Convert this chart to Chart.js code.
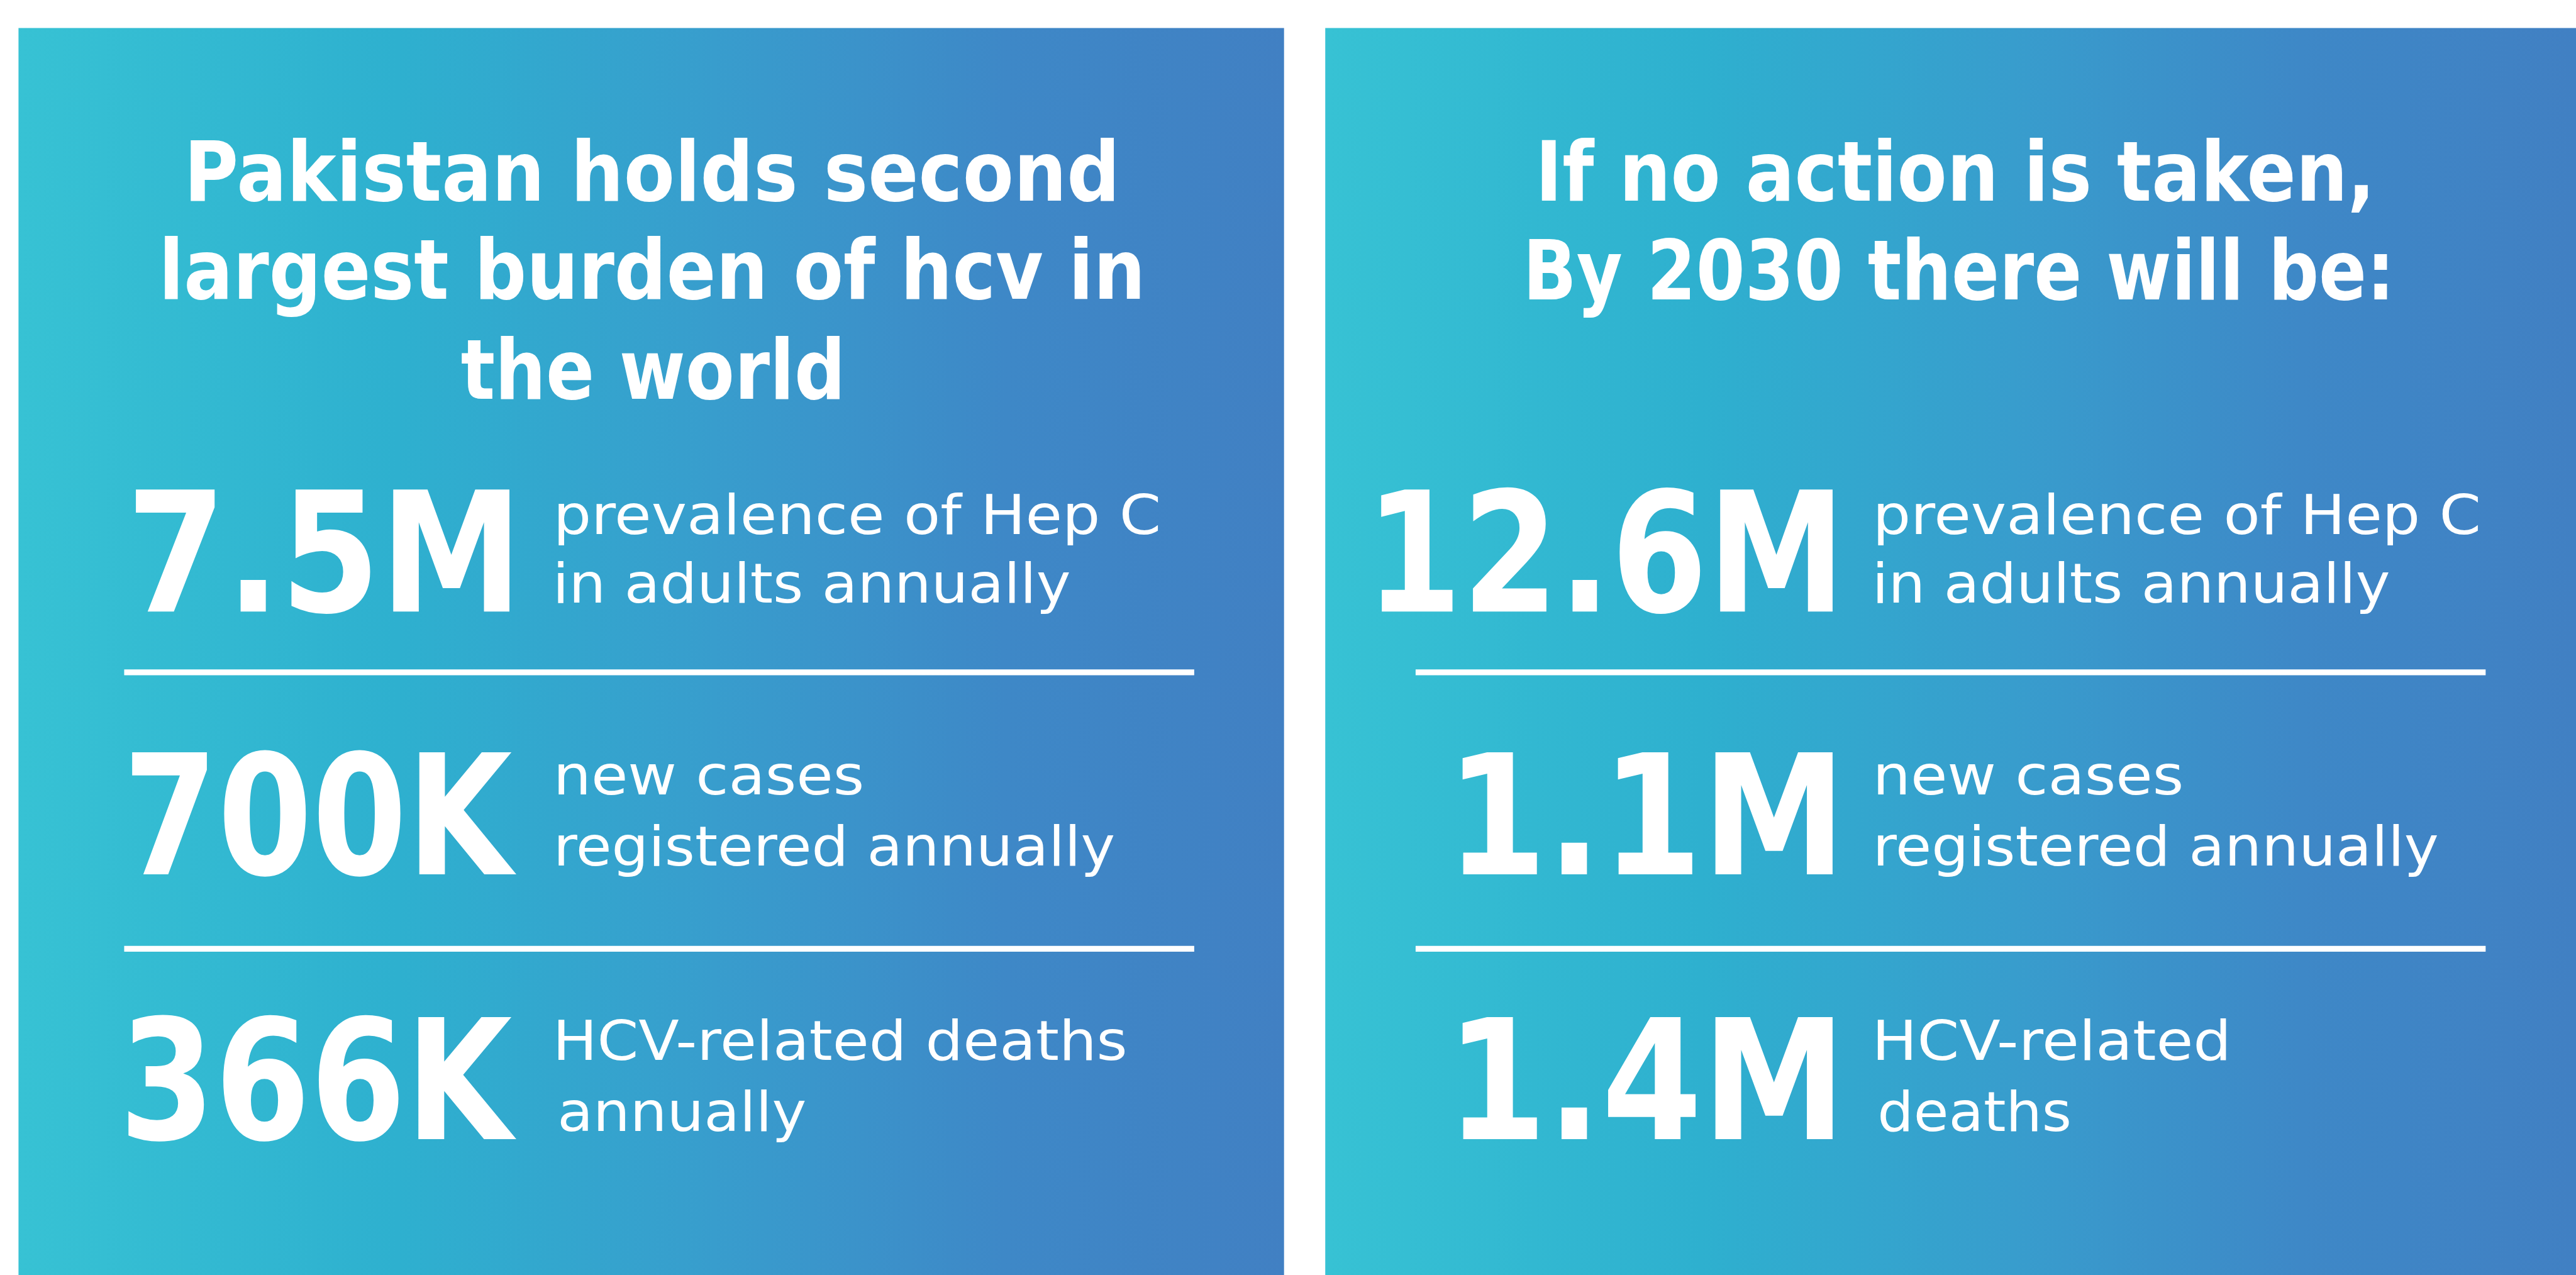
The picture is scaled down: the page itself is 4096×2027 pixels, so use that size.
<!DOCTYPE html>
<html lang="en">

<head>
    <meta charset="UTF-8">
    <title>Hepatitis C in Pakistan</title>
    <style>
        html, body {
            margin: 0;
            padding: 0;
            background: #fff;
        }

        .chart-box {
            width: 4096px;
            height: 2027px;
        }
    </style>
</head>

<body>
    <div class="chart-box">
        <canvas id="hcvChart"></canvas>
    </div>

    <script src="https://cdn.jsdelivr.net/npm/chart.js"></script>
    <script>
        // Panel texts and figures
        const nowTitle = ['Pakistan holds second', 'largest burden of hcv in', 'the world'];
        const futureTitle = ['If no action is taken,', 'By 2030 there will be:'];
        const nowFigures = ['7.5M', '700K', '366K'];
        const futureFigures = ['12.6M', '1.1M', '1.4M'];
        const nowLabels = [
            ['prevalence of Hep C', 'in adults annually'],
            ['new cases', 'registered annually'],
            ['HCV-related deaths', 'annually']
        ];
        const futureLabels = [
            ['prevalence of Hep C', 'in adults annually'],
            ['new cases', 'registered annually'],
            ['HCV-related', 'deaths']
        ];

        // Layout, in units of the original 4875 x 2412 artwork (mapped through the scales)
        const W = 4875, H = 2412;
        const panels = [[35, 2430], [2508, 4875]];
        const panelTop = 53;
        const titleBase = [[380, 565, 755], [380, 567]];
        const titleInk = [[[361, 2108], [312, 2157], [873, 1589]], [[2918, 4481], [2894, 4518]]];
        const figureBase = [1157, 1654, 2155];
        const figureInk = [[[256, 965], [249, 979], [242, 979]], [[2613, 3469], [2767, 3469], [2767, 3469]]];
        const labelBase = [[1010, 1140], [1503, 1637], [2005, 2139]];
        const labelLeft = [1056, 3553];
        const labelWidth = [
            [[1136, 968], [575, 1052], [1073, 463]],
            [[1137, 968], [575, 1060], [660, 358]]
        ];
        const ruleY = [1272, 1795];
        const ruleX = [[235, 2260], [2679, 4704]];

        const FAMILY = '"DejaVu Sans", sans-serif';

        const infographic = {
            id: 'infographic',
            beforeDraw(chart) {
                const ctx = chart.ctx;
                const xs = chart.scales.x, ys = chart.scales.y;
                ctx.save();
                ctx.fillStyle = '#ffffff';
                ctx.fillRect(0, 0, chart.width, chart.height);
                panels.forEach(p => {
                    const x0 = xs.getPixelForValue(p[0]), x1 = xs.getPixelForValue(p[1]);
                    const y0 = ys.getPixelForValue(panelTop), y1 = ys.getPixelForValue(H);
                    const g = ctx.createLinearGradient(x0, 0, x1, 0);
                    g.addColorStop(0, '#37c2d4');
                    g.addColorStop(0.3, '#2eb0cf');
                    g.addColorStop(0.55, '#389dcd');
                    g.addColorStop(0.78, '#3e88c7');
                    g.addColorStop(1, '#4180c3');
                    ctx.fillStyle = g;
                    ctx.fillRect(x0, y0, x1 - x0, y1 - y0);
                });
                ctx.restore();
            },
            afterDraw(chart) {
                const ctx = chart.ctx;
                const xs = chart.scales.x, ys = chart.scales.y;
                const k = (xs.getPixelForValue(W) - xs.getPixelForValue(0)) / W;

                // draw text so its ink spans x0..x1 on the given baseline
                function fitText(text, x0, x1, base, cap, weight) {
                    ctx.font = weight + ' ' + (cap / 0.729 * k) + 'px ' + FAMILY;
                    const m = ctx.measureText(text);
                    const ink = m.actualBoundingBoxLeft + m.actualBoundingBoxRight;
                    const s = (xs.getPixelForValue(x1) - xs.getPixelForValue(x0)) / ink;
                    ctx.save();
                    ctx.translate(xs.getPixelForValue(x0), ys.getPixelForValue(base));
                    ctx.scale(s, 1);
                    ctx.fillText(text, m.actualBoundingBoxLeft, 0);
                    ctx.restore();
                }

                ctx.save();
                ctx.fillStyle = '#ffffff';
                ctx.textBaseline = 'alphabetic';
                ctx.textAlign = 'left';

                [nowTitle, futureTitle].forEach((lines, p) => {
                    lines.forEach((t, i) => {
                        fitText(t, titleInk[p][i][0], titleInk[p][i][1], titleBase[p][i], 115, 'bold');
                    });
                });

                [nowFigures, futureFigures].forEach((figs, p) => {
                    figs.forEach((t, i) => {
                        fitText(t, figureInk[p][i][0], figureInk[p][i][1], figureBase[i], 231, 'bold');
                    });
                });

                [nowLabels, futureLabels].forEach((rows, p) => {
                    rows.forEach((lines, i) => {
                        lines.forEach((t, j) => {
                            const x0 = labelLeft[p] + (t === 'annually' || t === 'deaths' ? 5 : 0);
                            fitText(t, x0, x0 + labelWidth[p][i][j], labelBase[i][j], 76, 'normal');
                        });
                    });
                });

                // separator rules
                ctx.strokeStyle = '#ffffff';
                ctx.lineWidth = 11 * k;
                ruleX.forEach(r => {
                    ruleY.forEach(y => {
                        ctx.beginPath();
                        ctx.moveTo(xs.getPixelForValue(r[0]), ys.getPixelForValue(y));
                        ctx.lineTo(xs.getPixelForValue(r[1]), ys.getPixelForValue(y));
                        ctx.stroke();
                    });
                });
                ctx.restore();
            }
        };

        new Chart(document.getElementById('hcvChart'), {
            type: 'scatter',
            data: { datasets: [{ data: [], showLine: false }] },
            options: {
                responsive: true,
                maintainAspectRatio: false,
                animation: false,
                layout: { padding: 0 },
                scales: {
                    x: { type: 'linear', min: 0, max: W, display: false },
                    y: { type: 'linear', min: 0, max: H, reverse: true, display: false }
                },
                plugins: {
                    legend: { display: false },
                    tooltip: { enabled: false }
                }
            },
            plugins: [infographic]
        });
    </script>
</body>

</html>
